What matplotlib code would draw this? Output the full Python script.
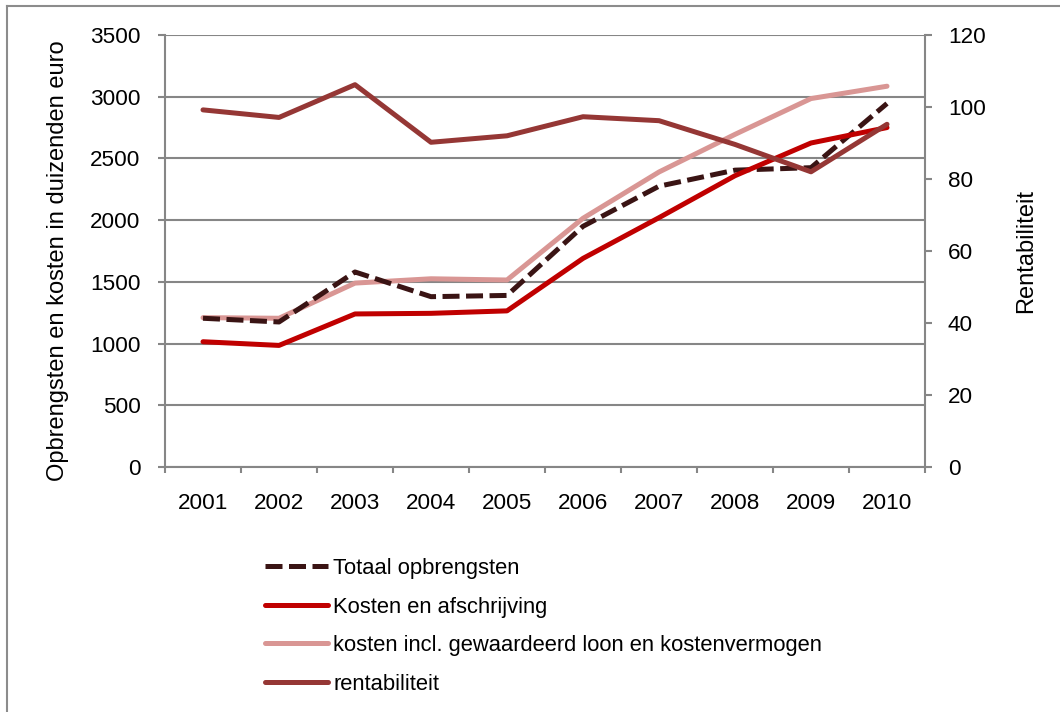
import matplotlib
matplotlib.use("Agg")
import matplotlib.pyplot as plt
from matplotlib.lines import Line2D

plt.rcParams['font.family'] = ['Liberation Sans', 'DejaVu Sans']

years = ['2001', '2002', '2003', '2004', '2005', '2006', '2007', '2008', '2009', '2010']
totaal_opbrengsten = [1205, 1175, 1580, 1380, 1390, 1950, 2275, 2405, 2425, 2945]
kosten_afschrijving = [1015, 985, 1240, 1245, 1265, 1690, 2020, 2360, 2625, 2750]
kosten_incl = [1210, 1205, 1490, 1525, 1515, 2015, 2390, 2695, 2985, 3085]
rentabiliteit = [99.2, 97.1, 106.2, 90.2, 92.0, 97.3, 96.2, 89.6, 82.0, 95.2]

left_ticks = [0, 500, 1000, 1500, 2000, 2500, 3000, 3500]
right_ticks = [0, 20, 40, 60, 80, 100, 120]

labels = ['Totaal opbrengsten', 'Kosten en afschrijving',
          'kosten incl. gewaardeerd loon en kostenvermogen', 'rentabiliteit']

c_tot = '#3a1414'
c_kost = '#c00000'
c_incl = '#d99694'
c_rent = '#953735'
gray = '#868686'
FS = 16.2
FS_LAB = 17.0
FS_LEG = 15.8

W, H = 1060, 712
fig = plt.figure(figsize=(W / 100, H / 100), dpi=100)

# outer chart border
fig.add_artist(Line2D([7 / W, 7 / W], [0, 1 - 6 / H], color='#8c8c8c', lw=1.5, transform=fig.transFigure))
fig.add_artist(Line2D([7 / W, 1], [1 - 6 / H, 1 - 6 / H], color='#8c8c8c', lw=1.5, transform=fig.transFigure))

x0, x1, yt, yb = 165, 925, 35, 467
ax = fig.add_axes([x0 / W, 1 - yb / H, (x1 - x0) / W, (yb - yt) / H])
ax2 = ax.twinx()

xs = list(range(len(years)))
ax.set_xlim(-0.5, len(years) - 0.5)
ax.set_ylim(0, 3500)
ax2.set_ylim(0, 120)

ax.set_yticks(left_ticks)
ax.set_yticklabels([str(t) for t in left_ticks], fontsize=FS)
ax2.set_yticks(right_ticks)
ax2.set_yticklabels([str(t) for t in right_ticks], fontsize=FS)

ax.set_xticks(xs)
ax.set_xticklabels(years, fontsize=FS)
ax.set_xticks([i - 0.5 for i in range(len(years) + 1)], minor=True)
ax.tick_params(axis='x', which='major', length=0, pad=19)
ax.tick_params(axis='x', which='minor', length=4.5, color=gray, width=1.5, direction='out')
ax.tick_params(axis='y', length=5, color=gray, width=1.5, pad=12.5)
ax2.tick_params(axis='y', length=5, color=gray, width=1.5, pad=11.5)

ax.grid(axis='y', color=gray, lw=1.5)
ax.set_axisbelow(True)
for a in (ax, ax2):
    a.spines['top'].set_visible(False)
    for s in ('left', 'right', 'bottom'):
        a.spines[s].set_color(gray)
        a.spines[s].set_linewidth(1.5)
ax.spines['right'].set_visible(False)
ax2.spines['left'].set_visible(False)
ax2.spines['bottom'].set_visible(False)

lw = 3.6
l1, = ax.plot(xs, totaal_opbrengsten, color=c_tot, lw=lw, dashes=(3.4, 1.3), dash_capstyle='butt', zorder=3)
l2, = ax.plot(xs, kosten_afschrijving, color=c_kost, lw=lw, solid_capstyle='round', zorder=3)
l3, = ax.plot(xs, kosten_incl, color=c_incl, lw=lw, solid_capstyle='round', zorder=2)
l4, = ax2.plot(xs, rentabiliteit, color=c_rent, lw=lw, solid_capstyle='round', zorder=3)

ax.set_ylabel('Opbrengsten en kosten in duizenden euro', fontsize=FS_LAB)
ax.yaxis.set_label_coords((69 - x0) / (x1 - x0), (yb - 261) / (yb - yt))
ax2.set_ylabel('Rentabiliteit', fontsize=FS_LAB, labelpad=21)

fig.legend([l1, l2, l3, l4], labels, loc='upper left',
           bbox_to_anchor=(265 / W, 1 - 558 / H), bbox_transform=fig.transFigure,
           frameon=False, fontsize=FS_LEG, handlelength=2.88, handletextpad=0.23,
           labelspacing=0.80, borderpad=0, borderaxespad=0)

fig.savefig('out.png', dpi=100)
